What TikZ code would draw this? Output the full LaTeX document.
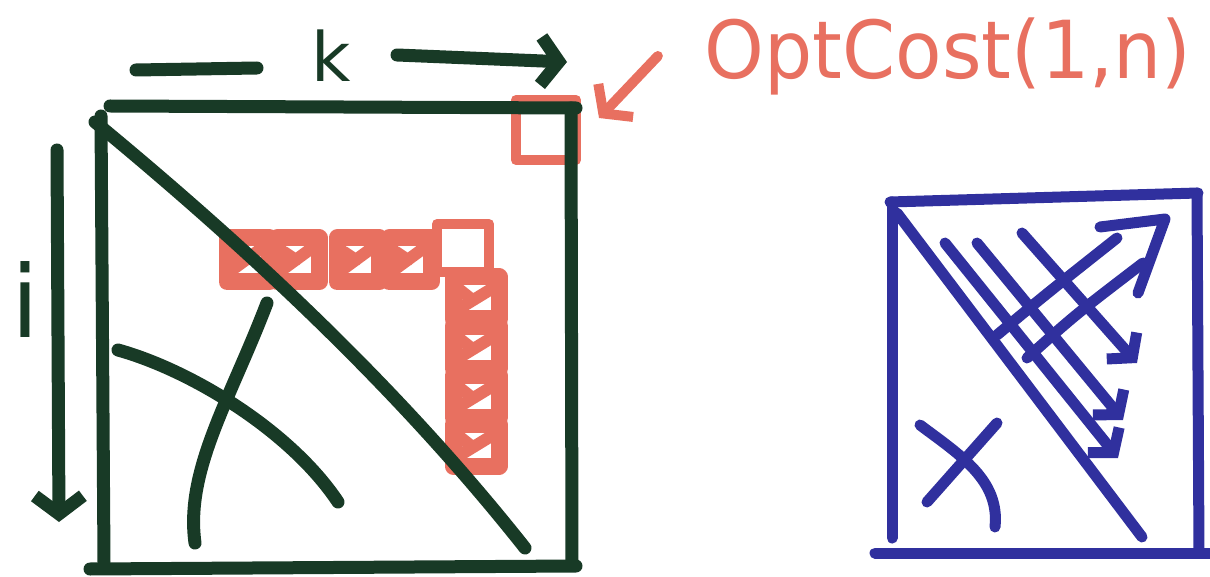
\documentclass[tikz,border=0pt]{standalone}
\usepackage{fontspec}
\setmainfont{DejaVu Sans}
\usetikzlibrary{arrows.meta}
\definecolor{penGreen}{RGB}{24,58,38}
\definecolor{penRed}{RGB}{232,112,96}
\definecolor{penBlue}{RGB}{48,48,158}
\begin{document}
\begin{tikzpicture}[x=0.5pt, y=-0.5pt, line cap=round, line join=round,
  green pen/.style={draw=penGreen, line width=6.5pt},
  red pen/.style={draw=penRed, line width=5pt},
  blue pen/.style={draw=penBlue, line width=5.5pt},
  barb/.style={-{Straight Barb[length=9pt, width=24pt]}},
  small barb/.style={-{Straight Barb[length=8pt, width=20pt]}}]
\useasboundingbox (0,0) rectangle (1210,577);

% the cells OptCost(1,n) depends on
\foreach \x in {248,298,358,410} {
  \draw[red pen, line width=8.5pt] (\x-21,238) rectangle (\x+21,282);
  \draw[red pen, line width=6pt] (\x-16,270) -- (\x+14,248) (\x-14,252) -- (\x-2,260);
}
\foreach \y in {298,347,396,445} {
  \draw[red pen, line width=8.5pt] (453,\y-21) rectangle (499,\y+21);
  \draw[red pen, line width=6pt] (457,\y+12) -- (493,\y-10) (460,\y-8) -- (470,\y);
}
\draw[red pen] (437,224) rectangle (489,272);
\node[red pen, draw, minimum size=30pt, inner sep=0pt] (corner) at (546,130) {};

% the table
\draw[green pen] (110,106) -- (576,108);
\draw[green pen] (101,116) -- (104,562);
\draw[green pen] (571,108) -- (572,565);
\draw[green pen] (90,569) -- (576,566);
\draw[green pen] (95,122) .. controls (250,250) and (400,390) .. (525,548);
\draw[green pen] (118,350) .. controls (190,370) and (290,430) .. (338,502);
\draw[green pen] (267,303) .. controls (230,400) and (185,470) .. (195,543);

% indices
\node[text=penGreen, font=\fontsize{34}{34}\selectfont] (kLabel) at (331,56) {k};
\draw[green pen] (136,70) -- (257,68);
\draw[green pen, barb] (397,55) -- (567,62);
\node[text=penGreen, font=\fontsize{50}{50}\selectfont] (iLabel) at (25,300) {i};
\draw[green pen, barb] (57,150) -- (59,522);

\node[text=penRed, font=\fontsize{40}{40}\selectfont, xscale=0.95] (optCost) at (948,56) {OptCost(1,n)};
\draw[red pen, barb] ([xshift=-20pt]optCost.west) -- ([xshift=9pt,yshift=6pt]corner.east);

% order of evaluation
\draw[blue pen] (890,202) -- (1198,193);
\draw[blue pen] (892,202) -- (892,538);
\draw[blue pen] (1197,193) -- (1199,553);
\draw[blue pen] (875,553) -- (1210,553);
\draw[blue pen] (897,213) -- (1142,537);
\draw[blue pen, small barb] (945,243) -- (1118,458);
\draw[blue pen, small barb] (977,243) -- (1123,420);
\draw[blue pen, small barb] (1022,233) -- (1137,363);
\draw[blue pen] (997,335) .. controls (1045,295) .. (1117,238);
\draw[blue pen] (1027,358) .. controls (1075,315) .. (1143,263);
\draw[blue pen] (1100,227) -- (1165,219) -- (1138,293);
\draw[blue pen] (920,425) .. controls (960,455) and (1000,480) .. (995,527);
\draw[blue pen] (997,423) -- (927,502);
\end{tikzpicture}
\end{document}
